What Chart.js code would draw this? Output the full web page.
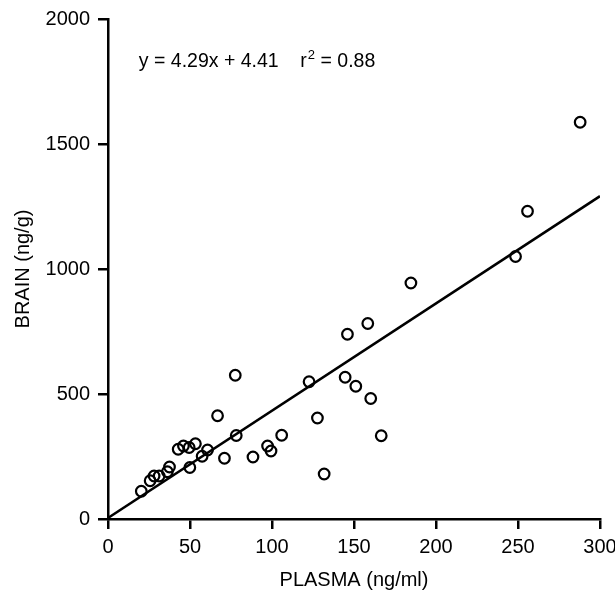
<!DOCTYPE html>
<html lang="en">
  <head>
    <meta charset="UTF-8" />
    <title>Brain vs plasma</title>
    <script src="https://cdn.jsdelivr.net/npm/chart.js"></script>
    <style>
      body { margin: 0; background: #fff; }
      #myChart { display: block; }
    </style>
  </head>
  <body>
    <canvas id="myChart" width="615" height="597"></canvas>

    <script>
      // DATA
      const plasma = [20.3, 25.7, 28.1, 31.2, 36.2, 37.5, 42.8, 46, 49.5, 53.3, 49.9,
        57.4, 60.7, 66.8, 77.6, 78.2, 71, 88.4, 97.3, 99.4, 105.9, 122.6, 127.7,
        131.8, 144.6, 146, 151.1, 158.4, 160.2, 166.6, 184.7, 248.5, 255.8, 287.9];
      const brain = [111, 153, 172, 172, 189, 208, 279, 292, 286, 301, 206,
        251, 276, 413, 575, 334, 243, 248, 292, 272, 335, 549, 404,
        180, 567, 739, 531, 782, 482, 333, 944, 1050, 1231, 1587];

      // regression line end points (y = 4.29x + 4.41)
      const fitX = [0, 300];
      const fitY = [4.41, 1291.41];

      const xTicks = [0, 50, 100, 150, 200, 250, 300];
      const yTicks = [0, 500, 1000, 1500, 2000];

      const fam = "'Liberation Sans', Arial, Helvetica, sans-serif";

      // equation label, anchored in data units
      const eqPlugin = {
        id: 'eqText',
        afterDraw(chart) {
          const ctx = chart.ctx;
          const xs = chart.scales.x, ys = chart.scales.y;
          let px = xs.getPixelForValue(18.8);
          const py = ys.getPixelForValue(1830);
          ctx.save();
          ctx.fillStyle = '#000';
          ctx.textBaseline = 'middle';
          ctx.textAlign = 'left';
          ctx.font = '19.5px ' + fam;
          const a = 'y = 4.29x + 4.41    r';
          ctx.fillText(a, px, py);
          px += ctx.measureText(a).width + 1;
          ctx.font = '13px ' + fam;
          ctx.fillText('2', px, py - 6);
          px += ctx.measureText('2').width;
          ctx.font = '19.5px ' + fam;
          ctx.fillText(' = 0.88', px, py);
          ctx.restore();
        }
      };

      const points = plasma.map((v, i) => ({ x: v, y: brain[i] }));
      const fitLine = fitX.map((v, i) => ({ x: v, y: fitY[i] }));

      const axisStyle = {
        grid: { drawOnChartArea: false, drawTicks: true, tickLength: 10, color: '#000', lineWidth: 2.5 },
        border: { display: true, color: '#000', width: 2.5 },
      };

      const config = {
        type: 'scatter',
        data: {
          datasets: [
            {
              data: fitLine,
              showLine: true,
              borderColor: '#000',
              borderWidth: 2.5,
              pointRadius: 0,
            },
            {
              data: points,
              pointStyle: 'circle',
              pointRadius: 5.3,
              borderColor: '#000',
              borderWidth: 2.2,
              backgroundColor: 'rgba(0,0,0,0)',
            },
          ],
        },
        options: {
          responsive: false,
          animation: false,
          layout: { padding: { top: 19, right: 15, left: 0, bottom: 0 } },
          plugins: { legend: { display: false }, tooltip: { enabled: false } },
          scales: {
            x: {
              type: 'linear',
              min: 0,
              max: 300,
              afterBuildTicks: (s) => { s.ticks = xTicks.map(v => ({ value: v })); },
              afterFit: (s) => { s.height = 78; s.paddingLeft = 0; s.paddingRight = 0; },
              ticks: { color: '#000', padding: 6, font: { family: fam, size: 20 }, callback: (v) => String(v) },
              title: {
                display: true,
                text: 'PLASMA (ng/ml)',
                color: '#000',
                font: { family: fam, size: 20 },
                padding: { top: 0, bottom: 5 },
              },
              ...axisStyle,
            },
            y: {
              type: 'linear',
              min: 0,
              max: 2000,
              afterBuildTicks: (s) => { s.ticks = yTicks.map(v => ({ value: v })); },
              afterFit: (s) => { s.width = 108; s.paddingTop = 0; s.paddingBottom = 0; },
              ticks: { color: '#000', padding: 8, font: { family: fam, size: 20 }, callback: (v) => String(v) },
              title: {
                display: true,
                text: 'BRAIN (ng/g)',
                color: '#000',
                font: { family: fam, size: 20 },
                padding: { top: 11, bottom: 0 },
              },
              ...axisStyle,
            },
          },
        },
        plugins: [eqPlugin],
      };

      let myChart = new Chart(document.getElementById('myChart'), config);
    </script>
  </body>
</html>
